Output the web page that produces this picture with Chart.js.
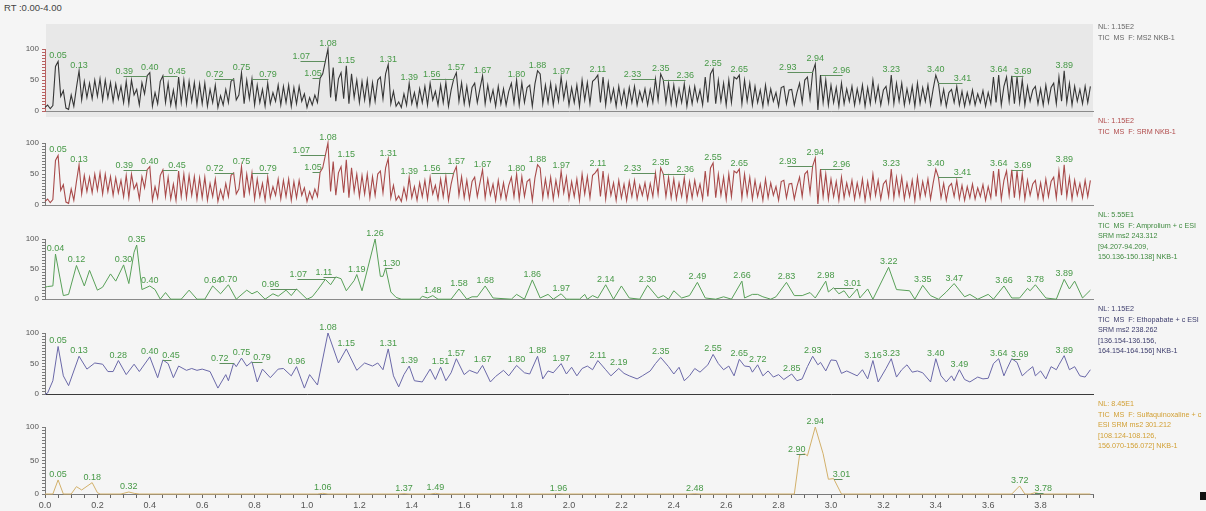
<!DOCTYPE html>
<html>
<head>
<meta charset="utf-8">
<script src="https://cdn.jsdelivr.net/npm/chart.js@4.4.1/dist/chart.umd.min.js"></script>
<style>
  html, body { margin: 0; padding: 0; background: #f5f5f5; }
  #wrap { position: relative; width: 1206px; height: 511px; overflow: hidden; background: #f5f5f5;
          font-family: "Liberation Sans", Arial, sans-serif; }
  #wrap canvas { position: absolute; left: 0; }
  .rt { position: absolute; left: 4px; top: 2px; font-size: 9.5px; color: #444; }
  .info { position: absolute; left: 1098px; font-size: 7.2px; line-height: 10.6px; white-space: pre; }
  #hl { position: absolute; left: 46px; top: 24px; width: 1047px; height: 93px; background: #e8e8e8; }
  .mark { position: absolute; left: 1200px; top: 492px; width: 6px; height: 8px; background: #111; }
</style>
</head>
<body>
<div id="wrap">
  <div class="rt">RT :0.00-4.00</div>
  <div id="hl"></div>
  <canvas id="p1"></canvas>
  <canvas id="p2"></canvas>
  <canvas id="p3"></canvas>
  <canvas id="p4"></canvas>
  <canvas id="p5"></canvas>
  <div class="info" style="top:22px;color:#666">NL: 1.15E2
TIC  MS  F: MS2 NKB-1</div>
  <div class="info" style="top:116px;color:#b04a4a">NL: 1.15E2
TIC  MS  F: SRM NKB-1</div>
  <div class="info" style="top:210px;color:#3f8a3f">NL: 5.55E1
TIC  MS  F: Amprolium + c ESI
SRM ms2 243.312
[94.207-94.209,
150.136-150.138] NKB-1</div>
  <div class="info" style="top:304px;color:#3c3c6c">NL: 1.15E2
TIC  MS  F: Ethopabate + c ESI
SRM ms2 238.262
[136.154-136.156,
164.154-164.156] NKB-1</div>
  <div class="info" style="top:399px;color:#d2a035">NL: 8.45E1
TIC  MS  F: Sulfaquinoxaline + c
ESI SRM ms2 301.212
[108.124-108.126,
156.070-156.072] NKB-1</div>
  <div class="mark"></div>
</div>
<script>
// ---- TIC traces (MS2 and SRM share the same scan profile), one value per 0.01 min ----
const ticRtStep = 0.01;
const ticIntensity = [
  6, 10, 4, 9, 72, 80, 24, 33, 5, 3,
  26, 8, 38, 65, 18, 48, 22, 45, 20, 50,
  24, 52, 18, 50, 22, 46, 16, 44, 20, 40,
  14, 48, 12, 50, 26, 35, 10, 46, 28, 57,
  62, 8, 30, 12, 48, 57, 14, 45, 10, 34,
  8, 55, 14, 50, 12, 48, 16, 46, 10, 44,
  12, 45, 8, 35, 14, 42, 6, 25, 10, 35,
  14, 48, 52, 18, 26, 62, 12, 50, 20, 52,
  10, 42, 14, 35, 8, 45, 12, 30, 16, 42,
  10, 40, 14, 42, 8, 38, 12, 40, 16, 28,
  6, 22, 10, 26, 14, 53, 60, 80, 100, 22,
  70, 16, 52, 62, 20, 73, 12, 60, 22, 50,
  14, 48, 18, 50, 12, 46, 16, 50, 55, 20,
  60, 75, 12, 32, 8, 15, 6, 28, 10, 45,
  12, 30, 8, 36, 14, 40, 10, 45, 18, 32,
  10, 42, 14, 46, 8, 34, 52, 62, 16, 46,
  12, 40, 10, 38, 45, 14, 36, 57, 12, 42,
  16, 34, 8, 40, 12, 36, 10, 32, 45, 14,
  50, 10, 46, 14, 38, 42, 8, 44, 65, 60,
  12, 42, 14, 45, 10, 40, 16, 55, 20, 45,
  10, 38, 14, 42, 8, 50, 18, 46, 12, 48,
  52, 58, 14, 55, 10, 46, 16, 36, 8, 40,
  12, 34, 8, 38, 14, 40, 10, 32, 16, 36,
  10, 35, 14, 52, 18, 60, 50, 14, 45, 12,
  42, 10, 36, 14, 44, 8, 38, 12, 40, 16,
  34, 10, 55, 14, 60, 68, 12, 50, 16, 45,
  10, 50, 14, 55, 52, 58, 12, 50, 16, 45,
  10, 40, 14, 34, 8, 42, 12, 36, 16, 30,
  8, 38, 40, 12, 34, 35, 10, 30, 45, 14,
  50, 55, 20, 63, 76, 2, 58, 14, 50, 10,
  42, 14, 38, 8, 45, 12, 36, 16, 40, 10,
  36, 14, 42, 8, 38, 12, 50, 16, 40, 10,
  34, 40, 14, 58, 12, 45, 16, 45, 10, 36,
  14, 40, 8, 45, 12, 38, 16, 42, 10, 36,
  58, 45, 12, 35, 8, 30, 35, 14, 40, 10,
  32, 8, 30, 12, 34, 10, 28, 14, 33, 8,
  30, 12, 55, 14, 58, 10, 40, 55, 16, 57,
  12, 55, 14, 50, 10, 40, 16, 34, 40, 12,
  36, 10, 42, 14, 38, 45, 12, 55, 16, 65,
  14, 45, 10, 40, 16, 35, 12, 40, 14, 40
];
const ticPeakRts = [0.05, 0.13, 0.39, 0.40, 0.45, 0.72, 0.75, 0.79, 1.05, 1.07, 1.08, 1.15, 1.31, 1.39,
  1.56, 1.57, 1.67, 1.80, 1.88, 1.97, 2.11, 2.33, 2.35, 2.36, 2.55, 2.65, 2.93, 2.94, 2.96, 3.23,
  3.40, 3.41, 3.64, 3.69, 3.89];

// ---- Amprolium SRM trace ----
const amproRt = [0.00, 0.01, 0.03, 0.04, 0.07, 0.09, 0.12, 0.15, 0.17, 0.20, 0.22, 0.25, 0.27, 0.30, 0.32,
  0.34, 0.35, 0.37, 0.40, 0.42, 0.44, 0.46, 0.48, 0.52, 0.55, 0.58, 0.61, 0.64, 0.67, 0.70, 0.73, 0.77,
  0.79, 0.81, 0.84, 0.87, 0.89, 0.92, 0.94, 0.96, 1.00, 1.02, 1.04, 1.07, 1.09, 1.11, 1.13, 1.15, 1.18,
  1.19, 1.21, 1.26, 1.28, 1.29, 1.30, 1.32, 1.34, 1.36, 1.43, 1.44, 1.46, 1.48, 1.50, 1.55, 1.58, 1.61,
  1.63, 1.65, 1.68, 1.71, 1.78, 1.80, 1.83, 1.86, 1.89, 1.92, 1.94, 1.97, 1.99, 2.04, 2.06, 2.07, 2.09,
  2.11, 2.14, 2.17, 2.20, 2.23, 2.27, 2.30, 2.34, 2.36, 2.38, 2.40, 2.43, 2.46, 2.49, 2.52, 2.56, 2.59,
  2.62, 2.66, 2.67, 2.70, 2.72, 2.74, 2.77, 2.79, 2.83, 2.86, 2.89, 2.92, 2.94, 2.98, 2.99, 3.01, 3.03,
  3.05, 3.07, 3.10, 3.11, 3.14, 3.16, 3.22, 3.25, 3.30, 3.32, 3.35, 3.38, 3.41, 3.44, 3.47, 3.51, 3.53,
  3.56, 3.60, 3.62, 3.66, 3.69, 3.72, 3.75, 3.76, 3.78, 3.82, 3.86, 3.89, 3.91, 3.93, 3.96, 3.99];
const amproInt = [20, 21, 22, 75, 6, 8, 56, 22, 48, 15, 20, 42, 30, 57, 26,
  78, 90, 16, 22, 16, 0, 11, 0, 0, 15, 0, 0, 22, 9, 24, 0, 15,
  9, 13, 0, 9, 5, 15, 6, 17, 0, 4, 15, 33, 24, 37, 34, 14, 31,
  41, 14, 100, 38, 38, 52, 12, 3, 0, 0, 5, 2, 6, 0, 0, 17, 0,
  4, 4, 22, 2, 0, 8, 0, 32, 2, 8, 0, 9, 0, 0, 8, 0, 6,
  2, 24, 0, 22, 2, 0, 23, 2, 6, 0, 14, 2, 6, 28, 2, 0, 4,
  0, 30, 2, 8, 8, 4, 0, 4, 28, 6, 6, 11, 2, 30, 12, 19, 9,
  14, 2, 17, 2, 17, 0, 53, 16, 14, 0, 23, 6, 0, 12, 26, 4, 8,
  0, 8, 0, 22, 2, 2, 18, 14, 24, 2, 0, 33, 17, 30, 2, 15];
const amproPeakRts = [0.04, 0.12, 0.30, 0.35, 0.40, 0.64, 0.70, 0.96, 1.07, 1.11, 1.19, 1.26, 1.30, 1.48,
  1.58, 1.68, 1.86, 1.97, 2.14, 2.30, 2.49, 2.66, 2.83, 2.98, 3.01, 3.22, 3.35, 3.47, 3.66, 3.78, 3.89];

// ---- Ethopabate SRM trace ----
const ethoRt = [0.00, 0.01, 0.03, 0.05, 0.07, 0.09, 0.13, 0.16, 0.19, 0.22, 0.24, 0.26, 0.28, 0.31, 0.34,
  0.36, 0.40, 0.43, 0.45, 0.47, 0.49, 0.51, 0.54, 0.56, 0.58, 0.60, 0.63, 0.66, 0.69, 0.70, 0.72, 0.73,
  0.75, 0.77, 0.79, 0.81, 0.83, 0.86, 0.89, 0.91, 0.94, 0.96, 0.99, 1.01, 1.04, 1.08, 1.12, 1.15, 1.19,
  1.22, 1.25, 1.27, 1.29, 1.31, 1.33, 1.35, 1.37, 1.39, 1.41, 1.44, 1.47, 1.49, 1.51, 1.53, 1.55, 1.57,
  1.60, 1.62, 1.65, 1.67, 1.70, 1.72, 1.75, 1.77, 1.80, 1.83, 1.85, 1.88, 1.90, 1.92, 1.94, 1.97, 1.99,
  2.01, 2.03, 2.05, 2.07, 2.09, 2.11, 2.14, 2.16, 2.19, 2.21, 2.23, 2.26, 2.28, 2.31, 2.33, 2.35, 2.38,
  2.40, 2.42, 2.44, 2.46, 2.48, 2.50, 2.53, 2.55, 2.57, 2.59, 2.61, 2.63, 2.65, 2.67, 2.69, 2.70, 2.72,
  2.74, 2.76, 2.78, 2.80, 2.82, 2.85, 2.87, 2.89, 2.91, 2.93, 2.95, 2.96, 2.98, 3.00, 3.02, 3.04, 3.06,
  3.08, 3.10, 3.12, 3.14, 3.16, 3.18, 3.21, 3.23, 3.25, 3.27, 3.29, 3.31, 3.33, 3.35, 3.38, 3.40, 3.42,
  3.44, 3.46, 3.47, 3.49, 3.51, 3.53, 3.56, 3.58, 3.60, 3.62, 3.64, 3.66, 3.67, 3.69, 3.71, 3.73, 3.75,
  3.77, 3.78, 3.80, 3.82, 3.84, 3.86, 3.87, 3.89, 3.91, 3.93, 3.95, 3.97, 3.99];
const ethoInt = [0, 2, 22, 78, 30, 14, 62, 41, 51, 49, 37, 37, 55, 32, 49,
  37, 61, 27, 56, 50, 27, 46, 39, 42, 39, 41, 37, 10, 32, 22, 51, 45,
  59, 46, 53, 20, 41, 27, 41, 42, 30, 45, 10, 32, 15, 100, 51, 74, 39,
  51, 46, 51, 40, 74, 30, 12, 32, 46, 22, 20, 41, 24, 44, 22, 35, 58,
  32, 39, 34, 47, 20, 29, 39, 30, 47, 35, 33, 62, 25, 38, 35, 50, 33,
  44, 30, 42, 46, 40, 55, 40, 30, 42, 34, 30, 25, 30, 38, 50, 60, 45,
  33, 44, 22, 30, 42, 36, 48, 65, 50, 40, 46, 30, 57, 46, 45, 36, 48,
  30, 38, 28, 32, 24, 33, 22, 25, 45, 62, 48, 52, 38, 56, 55, 34, 38,
  34, 30, 40, 25, 55, 20, 42, 58, 28, 40, 48, 36, 38, 35, 20, 58, 30,
  20, 30, 22, 40, 24, 20, 28, 25, 26, 50, 58, 30, 40, 58, 52, 30, 38,
  45, 30, 38, 25, 45, 40, 48, 63, 40, 45, 30, 28, 40];
const ethoPeakRts = [0.05, 0.13, 0.28, 0.40, 0.45, 0.72, 0.75, 0.79, 0.96, 1.08, 1.15, 1.31, 1.39, 1.51,
  1.57, 1.67, 1.80, 1.88, 1.97, 2.11, 2.19, 2.35, 2.55, 2.65, 2.72, 2.85, 2.93, 3.16, 3.23, 3.40, 3.49,
  3.64, 3.69, 3.89];

// ---- Sulfaquinoxaline SRM trace ----
const sulfaRt = [0.00, 0.03, 0.05, 0.07, 0.10, 0.12, 0.14, 0.18, 0.20, 0.21, 0.29, 0.32, 0.34, 0.36,
  1.04, 1.06, 1.08, 1.35, 1.37, 1.39, 1.47, 1.49, 1.51, 1.94, 1.96, 1.98, 2.46, 2.48, 2.50, 2.86, 2.88,
  2.90, 2.91, 2.94, 2.97, 2.99, 3.01, 3.04, 3.69, 3.72, 3.74, 3.76, 3.78, 3.80, 3.99];
const sulfaInt = [0, 0, 21, 0, 0, 11, 6, 17, 2, 0, 0, 3, 1, 0,
  0, 1, 0, 0, 0.5, 0, 0, 1, 0, 0, 0.4, 0, 0, 0.4, 0, 0, 58,
  60, 57, 100, 60, 22, 23, 0, 0, 12, 0, 0, 2, 0, 0];
const sulfaPeakRts = [0.05, 0.18, 0.32, 1.06, 1.37, 1.49, 1.96, 2.48, 2.90, 2.94, 3.01, 3.72, 3.78];

// ---- axis settings ----
const rtMin = 0, rtMax = 4;
const rtMinorStep = 0.05;
const rtLabelStep = 0.2;
const relMin = 0, relMax = 100, relMinorStep = 5, relLabelStep = 50;

// horizontal offsets (px) of labels that sit beside their peak with a leader line
const ticShift = { 0.39: -23, 0.45: 14, 0.72: -19, 0.79: 16, 1.05: -7, 1.07: -24, 1.56: -22,
  2.33: -23, 2.36: 22, 2.93: -25, 2.96: 21, 3.41: 24, 3.69: 11 };
const amproShift = { 0.96: -26, 1.07: -27, 1.11: -12, 1.30: 6, 3.01: 19 };
const ethoShift = { 0.45: 8, 0.72: -14, 0.79: 10, 3.69: 8 };
const sulfaShift = { 2.90: -8, 3.01: 8, 3.78: 8 };

const FONT = '"Liberation Sans", Arial, sans-serif';

function pairs(xs, ys) { return xs.map((t, i) => ({ x: t, y: ys[i] })); }
const ticPoints = ticIntensity.map((v, i) => ({ x: +(i * ticRtStep).toFixed(2), y: v }));

// retention-time labels above the apex of each listed peak
const peakLabels = {
  id: 'peakLabels',
  afterDatasetsDraw(chart, args, opts) {
    if (!opts || !opts.rts) return;
    const { ctx } = chart;
    const xs = chart.scales.x, ys = chart.scales.y;
    const pts = chart.data.datasets[0].data;
    ctx.save();
    ctx.font = '9px ' + FONT;
    ctx.fillStyle = opts.color;
    ctx.strokeStyle = opts.lineColor;
    ctx.lineWidth = 1;
    ctx.textAlign = 'center';
    ctx.textBaseline = 'alphabetic';
    opts.rts.forEach(rt => {
      const p = pts.find(d => Math.abs(d.x - rt) < 1e-6);
      if (!p) return;
      const px = xs.getPixelForValue(rt);
      const py = ys.getPixelForValue(p.y);
      const text = rt.toFixed(2);
      const shift = (opts.shifts || {})[rt] || 0;
      if (shift) {
        const tx = px + shift;
        ctx.fillText(text, tx, py - 2);
        ctx.beginPath();
        ctx.moveTo(Math.round(tx) + 0.5 * Math.sign(shift), Math.round(py) + 0.5);
        ctx.lineTo(Math.round(px), Math.round(py) + 0.5);
        ctx.stroke();
      } else {
        ctx.fillText(text, px, py - 3);
      }
    });
    ctx.restore();
  }
};

function buildPanel(id, top, plotH, cfg) {
  const padTop = 30;
  const axisH = cfg.showX ? 17 : 0;
  const H = padTop + plotH + axisH + 2;
  const cv = document.getElementById(id);
  cv.width = 1100;
  cv.height = H;
  cv.style.top = (top - padTop) + 'px';
  return new Chart(cv, {
    type: 'line',
    data: {
      datasets: [{
        data: cfg.points,
        borderColor: cfg.color,
        borderWidth: cfg.width || 1,
        pointRadius: 0,
        tension: 0,
        fill: false,
        clip: false
      }]
    },
    options: {
      responsive: false,
      animation: false,
      devicePixelRatio: 1,
      events: [],
      layout: { padding: { top: padTop, right: 7, bottom: 2, left: 0 } },
      plugins: {
        legend: { display: false },
        tooltip: { enabled: false },
        peakLabels: { rts: cfg.labels, shifts: cfg.shifts, color: '#479947', lineColor: '#5f8f5f' }
      },
      scales: {
        x: {
          type: 'linear',
          min: rtMin,
          max: rtMax,
          afterFit(s) { s.height = axisH; },
          border: { display: true, color: cfg.baseColor, width: 1 },
          grid: { display: cfg.showX, drawOnChartArea: false, drawTicks: true, tickLength: 4, color: '#666' },
          ticks: {
            display: cfg.showX,
            stepSize: rtMinorStep,
            autoSkip: false,
            maxRotation: 0,
            padding: 2,
            color: '#555',
            font: { size: 9, family: FONT },
            callback(v) {
              const r = Math.round(v * 100);
              const step = Math.round(rtLabelStep * 100);
              return (r % step === 0 && v < rtMax - 0.1) ? (r / 100).toFixed(1) : '';
            }
          }
        },
        y: {
          min: relMin,
          max: relMax,
          afterFit(s) { s.width = 45; },
          border: { display: true, color: cfg.axisColor, width: 1 },
          grid: { display: true, drawOnChartArea: false, drawTicks: true, tickLength: 3, color: cfg.axisColor },
          ticks: {
            stepSize: relMinorStep,
            autoSkip: false,
            padding: 3,
            color: '#555',
            font: { size: 8, family: FONT },
            callback(v) { return v % relLabelStep === 0 ? String(v) : ''; }
          }
        }
      }
    },
    plugins: [peakLabels]
  });
}

buildPanel('p1', 49, 68, { points: ticPoints, color: '#363636', width: 1.1, labels: ticPeakRts, shifts: ticShift,
  axisColor: '#b86262', baseColor: '#8a8a8a', showX: false });
buildPanel('p2', 143, 68, { points: ticPoints, color: '#a84a4a', width: 1.1, labels: ticPeakRts, shifts: ticShift,
  axisColor: '#7a7a7a', baseColor: '#8a8a8a', showX: false });
buildPanel('p3', 239, 66, { points: pairs(amproRt, amproInt), color: '#58a058', labels: amproPeakRts,
  shifts: amproShift, axisColor: '#7a7a7a', baseColor: '#8a8a8a', showX: false });
buildPanel('p4', 333, 67, { points: pairs(ethoRt, ethoInt), color: '#6a68a8', labels: ethoPeakRts,
  shifts: ethoShift, axisColor: '#7a7a7a', baseColor: '#3a3a3a', showX: false });
buildPanel('p5', 427, 67, { points: pairs(sulfaRt, sulfaInt), color: '#d2b06a', labels: sulfaPeakRts,
  shifts: sulfaShift, axisColor: '#7a7a7a', baseColor: '#7a7a7a', showX: true });
</script>
</body>
</html>
